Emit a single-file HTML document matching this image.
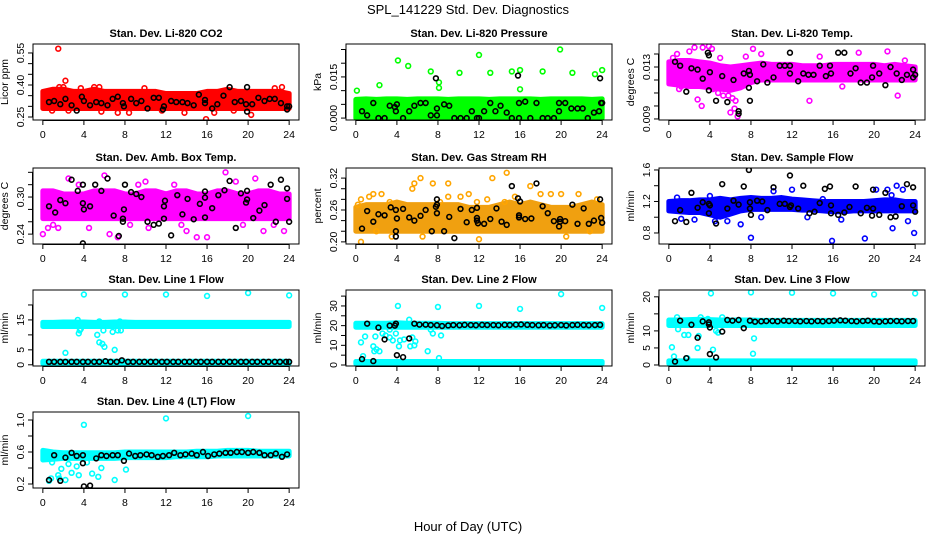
<!DOCTYPE html>
<html><head><meta charset="utf-8"><style>
html,body{margin:0;padding:0;background:#fff;}
svg{display:block;font-family:"Liberation Sans",Arial,sans-serif;}
</style></head><body>
<svg id="chart" width="936" height="540" viewBox="0 0 936 540" xmlns="http://www.w3.org/2000/svg">
<rect x="0" y="0" width="936" height="540" fill="#fff"/>
<text x="468" y="14" font-size="13" text-anchor="middle">SPL_141229  Std. Dev. Diagnostics</text>
<text x="468" y="531" font-size="13" text-anchor="middle">Hour of Day (UTC)</text>
</svg>
<script>
const hours=[0,1,2,3,4,5,6,7,8,9,10,11,12,13,14,15,16,17,18,19,20,21,22,23,24];
const xTicks=[0,4,8,12,16,20,24];
const tailX=[6.2,6.8,7.3,7.9,8.4,9.0,9.5,10.1,10.6,11.2,11.7,12.3,12.8,13.4,13.9,14.5,15.0,15.6,16.1,16.7,17.2,17.8,18.3,18.9,19.4,20.0,20.5,21.1,21.6,22.2,22.7,23.3,23.8];
const l1BlackX=[0.6,1.1,1.7,2.2,2.8,3.3,3.9,4.4,5.0,5.5,6.1,6.6,7.2,7.7,8.3,8.8,9.4,9.9,10.5,11.0,11.6,12.1,12.7,13.2,13.8,14.3,14.9,15.4,16.0,16.5,17.1,17.6,18.2,18.7,19.3,19.8,20.4,20.9,21.5,22.0,22.6,23.1,23.7,24.0];
const l1BlackY=[1,1,1,1,1,1,1,1,1,1,1.2,1,1,1.5,1,1,1,1,1,1,1,1,1,1,1,1,1,1,1,1,1,1,1,1,1,1,1,1,1,1,1,1,1,1];

/* Panel 1: CO2 */
const co2BandLo=[0.29,0.29,0.29,0.29,0.29,0.29,0.29,0.29,0.29,0.29,0.29,0.29,0.29,0.29,0.29,0.29,0.29,0.29,0.29,0.29,0.29,0.29,0.29,0.29,0.29];
const co2BandHi=[0.37,0.38,0.38,0.37,0.37,0.38,0.37,0.37,0.37,0.37,0.37,0.37,0.36,0.36,0.36,0.36,0.37,0.37,0.38,0.37,0.37,0.37,0.37,0.37,0.36];
const co2PtsX=[1.5,2.2,1.6,2.0,3.7,5.0,5.5,9.9,7.3,15.9,13.8,16.7,20.3,0.9,2.5,22.6,11.6,23.3,5.7,18.6,8.4];
const co2PtsY=[0.57,0.42,0.39,0.39,0.385,0.39,0.39,0.385,0.27,0.24,0.27,0.27,0.26,0.28,0.28,0.385,0.28,0.39,0.275,0.28,0.27];
const co2BlkX=[0.6,1.1,1.7,2.2,2.8,3.3,3.8,4.0,4.6,5.2,5.7,6.3,6.8,7.3,7.8,7.9,8.6,9.1,9.6,10.2,10.8,11.3,11.8,11.7,12.5,13.0,13.6,14.1,14.7,15.2,15.8,15.8,16.5,17.0,17.6,18.2,18.7,19.3,19.8,19.9,19.9,20.4,21.0,21.6,22.1,22.6,23.2,23.8,23.8,24.0];
const co2BlkY=[0.32,0.325,0.31,0.335,0.305,0.28,0.345,0.325,0.305,0.32,0.315,0.305,0.335,0.345,0.315,0.3,0.335,0.315,0.325,0.29,0.34,0.34,0.3,0.285,0.325,0.32,0.32,0.315,0.305,0.355,0.33,0.315,0.29,0.31,0.35,0.39,0.32,0.325,0.31,0.39,0.275,0.31,0.34,0.325,0.335,0.335,0.315,0.3,0.285,0.3];

/* Panel 2: Pressure */
const prBandLo=[0,0,0,0,0,0,0,0,0,0,0,0,0,0,0,0,0,0,0,0,0,0,0,0,0];
const prBandHi=[0.0068,0.007,0.0068,0.007,0.007,0.0068,0.007,0.007,0.007,0.0068,0.007,0.007,0.007,0.0068,0.007,0.007,0.007,0.007,0.0068,0.007,0.007,0.007,0.007,0.0068,0.007];
const prPtsX=[0.1,2.3,4.1,5.1,7.3,8.1,8.1,10.1,12.0,13.1,15.2,16.0,16.0,18.2,19.9,21.1,23.3,24.0];
const prPtsY=[0.010,0.012,0.021,0.019,0.017,0.013,0.011,0.0165,0.023,0.0165,0.017,0.0175,0.0105,0.017,0.025,0.0165,0.016,0.0175];
const prBlkX=[0.6,1.1,1.7,2.2,2.8,3.3,3.8,3.9,4.0,4.6,5.2,5.7,6.3,6.8,7.3,7.8,7.9,7.9,8.6,9.1,9.6,10.2,10.8,11.3,11.8,12.0,12.5,13.1,13.6,14.1,14.7,15.2,15.8,15.9,15.9,16.5,17.0,17.6,18.2,18.7,19.3,19.8,19.8,20.4,21.0,21.6,22.1,22.6,23.2,23.7,23.8,23.9,24.0];
const prBlkY=[0.0025,0.001,0.0055,0,0,0.0045,0.004,0.0025,0.005,0,0.0025,0.0045,0.0055,0.0055,0.001,0.0145,0.0035,0.001,0.005,0.0045,0,0,0,0.0025,0,0,0.0025,0.0055,0.0025,0.0045,0.002,0,0.0155,0.0055,0,0.006,0,0.0055,0,0,0,0.0055,0.0025,0.0055,0.0035,0.0035,0.0035,0,0.002,0.0025,0.0145,0.0055,0.0055];

/* Panel 3: Li-820 Temp */
const tBandLo=[0.0117,0.0116,0.0115,0.0115,0.0114,0.0113,0.0112,0.0114,0.0118,0.012,0.012,0.012,0.012,0.012,0.012,0.012,0.012,0.012,0.012,0.012,0.012,0.012,0.012,0.012,0.012];
const tBandHi=[0.0134,0.0135,0.0135,0.0134,0.0133,0.0131,0.013,0.0131,0.0132,0.0133,0.0132,0.0132,0.0132,0.0131,0.0131,0.0131,0.0132,0.0132,0.0132,0.0132,0.0132,0.0131,0.0132,0.0131,0.013];
const tPtsX=[0.4,0.8,1.2,2.0,2.5,3.3,3.9,4.2,2.8,3.2,4.3,5.0,5.6,6.0,6.4,6.7,7.5,8.2,9.0,13.7,14.7,18.5,21.3,22.3,23.0,1.0,5.3,16.9,5.8,6.2,6.5,4.8];
const tPtsY=[0.0137,0.014,0.0115,0.0142,0.0145,0.0145,0.0146,0.0144,0.0105,0.010,0.0113,0.0137,0.0114,0.0095,0.0098,0.0092,0.0138,0.0144,0.014,0.0104,0.0138,0.0141,0.0142,0.0108,0.0135,0.0113,0.0108,0.0115,0.0108,0.0106,0.0104,0.011];
const tBlkX=[0.6,1.1,1.7,2.2,2.8,3.3,3.8,3.9,4.0,3.9,4.6,5.2,5.7,6.3,6.8,6.8,7.3,7.8,7.9,7.8,7.9,8.6,9.2,9.6,10.2,10.8,11.3,11.8,11.8,11.8,12.6,13.1,13.6,14.1,14.7,15.3,15.7,15.8,16.5,17.1,17.7,18.2,18.7,19.3,19.8,19.9,20.5,21.1,21.6,22.2,22.7,23.2,23.8,23.8,24.0];
const tBlkY=[0.0134,0.0131,0.0111,0.0129,0.0128,0.0121,0.0141,0.0139,0.0126,0.0112,0.0104,0.0123,0.0103,0.012,0.0094,0.0096,0.0125,0.0127,0.0124,0.0114,0.0104,0.0119,0.0132,0.0118,0.0122,0.0131,0.0131,0.0141,0.0125,0.0131,0.0119,0.0125,0.0124,0.0124,0.0131,0.0123,0.0131,0.0125,0.0141,0.0141,0.0125,0.0129,0.0118,0.0118,0.0122,0.0131,0.0125,0.0116,0.013,0.0125,0.012,0.0124,0.0128,0.0122,0.0124];

/* Panel 4: Amb Box Temp */
const abBandLo=[0.265,0.265,0.265,0.265,0.265,0.265,0.265,0.265,0.265,0.265,0.265,0.265,0.265,0.265,0.265,0.265,0.265,0.265,0.265,0.265,0.265,0.265,0.265,0.265,0.265];
const abBandHi=[0.31,0.31,0.305,0.305,0.305,0.31,0.31,0.31,0.305,0.305,0.31,0.31,0.305,0.31,0.31,0.305,0.305,0.31,0.31,0.305,0.305,0.31,0.31,0.305,0.305];
const abPtsX=[0,0.5,1.5,2.5,6.0,6.5,7.3,10.0,10.3,14.0,15.0,16.0,17.8,18.8,20.7,21.5,23.5,12.8,4.5,9.3,3.5,1.0,8.5,13.5,22.5,19.5];
const abPtsY=[0.24,0.25,0.25,0.33,0.335,0.24,0.235,0.325,0.25,0.245,0.235,0.235,0.34,0.325,0.33,0.245,0.245,0.32,0.25,0.32,0.32,0.255,0.255,0.255,0.255,0.255];
const abBlkX=[0.6,1.2,1.7,2.2,2.8,3.4,3.9,3.9,4.0,3.9,4.6,5.1,5.7,6.3,6.9,7.4,7.8,7.8,7.9,8.0,8.6,9.1,9.6,10.2,10.8,11.3,11.8,11.8,11.9,12.5,13.1,13.6,14.1,14.7,15.3,15.8,15.8,15.8,16.5,17.1,17.7,18.2,18.8,19.3,19.8,19.9,19.9,20.5,21.1,21.6,22.2,22.7,23.2,23.8,23.8,24.0];
const abBlkY=[0.285,0.275,0.295,0.29,0.328,0.31,0.32,0.29,0.28,0.225,0.285,0.32,0.31,0.33,0.27,0.237,0.26,0.265,0.28,0.32,0.308,0.305,0.3,0.26,0.255,0.257,0.265,0.285,0.294,0.238,0.303,0.272,0.297,0.264,0.289,0.267,0.299,0.309,0.282,0.303,0.311,0.326,0.25,0.306,0.291,0.296,0.31,0.266,0.278,0.287,0.32,0.26,0.328,0.314,0.297,0.26];

/* Panel 5: Gas Stream RH */
const rhBandLo=[0.22,0.22,0.22,0.22,0.22,0.22,0.22,0.22,0.22,0.22,0.22,0.22,0.22,0.22,0.22,0.22,0.22,0.22,0.22,0.22,0.22,0.22,0.22,0.22,0.22];
const rhBandHi=[0.265,0.27,0.27,0.27,0.275,0.27,0.27,0.27,0.27,0.27,0.27,0.265,0.265,0.265,0.27,0.275,0.27,0.275,0.27,0.265,0.265,0.265,0.27,0.275,0.27];
const rhPtsX=[0.2,0.5,0.5,1.3,1.7,2.5,3.3,5.5,5.7,6.3,7.5,9.0,9.0,10.2,11.0,11.8,12.0,12.8,13.3,14.5,14.7,15.5,17.0,18.0,19.0,20.0,20.5,21.7,22.8,23.5,3.5,6.5,8.2,2.0];
const rhPtsY=[0.27,0.28,0.20,0.285,0.29,0.29,0.275,0.30,0.31,0.32,0.31,0.31,0.285,0.285,0.29,0.275,0.205,0.28,0.32,0.275,0.33,0.285,0.305,0.29,0.29,0.29,0.21,0.29,0.22,0.28,0.21,0.21,0.275,0.22];
const rhBlkX=[0.6,1.1,1.7,2.2,2.8,3.4,3.9,3.9,3.9,4.0,4.6,5.2,5.7,6.3,6.8,7.4,7.8,7.9,7.9,7.9,8.6,9.1,9.6,10.2,10.8,11.3,11.8,11.8,11.8,11.9,12.5,13.1,13.7,14.2,14.7,15.2,15.8,15.9,15.9,16.0,16.5,17.1,17.6,18.2,18.7,19.3,19.8,19.9,19.9,20.4,21.1,21.6,22.2,22.7,23.2,23.8,23.9,24.0];
const rhBlkY=[0.225,0.258,0.238,0.252,0.25,0.265,0.26,0.22,0.21,0.244,0.262,0.246,0.24,0.249,0.26,0.22,0.266,0.28,0.27,0.254,0.22,0.247,0.207,0.262,0.237,0.26,0.264,0.245,0.24,0.235,0.234,0.243,0.263,0.238,0.232,0.305,0.282,0.25,0.246,0.276,0.243,0.244,0.31,0.267,0.254,0.239,0.229,0.243,0.238,0.239,0.27,0.234,0.263,0.234,0.24,0.28,0.245,0.236];

/* Panel 6: Sample Flow */
const sfBandLo=[1.08,1.07,1.06,1.06,1.03,1.0,1.04,1.08,1.1,1.1,1.1,1.1,1.1,1.09,1.09,1.08,1.07,1.07,1.08,1.08,1.08,1.08,1.08,1.08,1.08];
const sfBandHi=[1.2,1.21,1.21,1.22,1.22,1.24,1.22,1.24,1.25,1.24,1.24,1.25,1.23,1.22,1.21,1.2,1.2,1.2,1.2,1.2,1.21,1.22,1.22,1.2,1.2];
const sfPtsX=[0.8,1.2,4.0,4.5,5.7,7.0,8.0,12.0,13.5,15.0,15.9,16.8,19.1,20.2,21.3,21.8,22.2,23.3,23.9,22.8,21.7,10.2,2.5,9.0];
const sfPtsY=[1.25,0.98,1.27,0.95,0.95,0.91,0.74,1.35,1.0,1.23,0.70,0.97,0.73,1.35,1.35,0.86,1.4,0.95,0.8,1.35,1.28,1.33,0.97,1.0];
const sfBlkX=[0.6,1.1,1.7,2.2,2.8,3.3,3.9,3.9,4.0,4.6,5.2,5.7,6.3,6.8,7.3,7.8,7.9,7.9,8.0,8.6,9.1,9.6,10.2,10.8,11.3,11.8,11.8,11.9,12.6,13.1,13.7,14.2,14.7,15.2,15.7,15.8,15.8,16.5,17.1,17.6,18.2,18.7,19.3,19.8,19.9,19.9,20.5,21.1,21.6,22.1,22.7,23.2,23.8,23.8,24.0];
const sfBlkY=[0.95,1.09,0.94,1.31,1.12,1.19,1.17,1.05,1.15,0.92,1.42,1.11,1.21,1.16,1.39,1.6,1.19,1.11,1.03,1.21,1.2,1.09,1.38,1.17,1.17,1.53,1.13,1.15,1.11,1.4,1.05,1.07,1.18,1.36,1.39,1.15,1.05,1.03,1.06,1.13,1.39,1.05,1.12,1.02,1.11,1.35,1.03,1.31,1.0,1.01,1.14,1.42,1.38,1.15,1.07];

/* Panel 7: Line 1 Flow */
const l1BandLo=[12.8,12.8,12.8,12.8,12.8,12.8,12.8,12.8,12.8,12.8,12.8,12.8,12.8,12.8,12.8,12.8,12.8,12.8,12.8,12.8,12.8,12.8,12.8,12.8,12.8];
const l1BandHi=[14.2,14.2,14.3,14.3,14.3,14.2,14.2,14.3,14.3,14.2,14.2,14.2,14.2,14.2,14.2,14.2,14.2,14.2,14.2,14.2,14.2,14.2,14.2,14.2,14.2];
const l1Band2Lo=[0.4,0.4,0.4,0.4,0.4,0.4,0.4,0.4,0.4,0.4,0.4,0.4,0.4,0.4,0.4,0.4,0.4,0.4,0.4,0.4,0.4,0.4,0.4,0.4,0.4];
const l1Band2Hi=[1.2,1.2,1.2,1.2,1.2,1.2,1.2,1.2,1.2,1.2,1.2,1.2,1.2,1.2,1.2,1.2,1.2,1.2,1.2,1.2,1.2,1.2,1.2,1.2,1.2];
const l1PtsX=[2.2,3.4,3.5,3.6,3.7,5.3,5.5,5.8,6.0,5.9,6.8,7.0,7.3,7.5,7.6,4.0,8.0,12.0,16.0,20.0,24.0,5.5];
const l1PtsY=[4,15,10.5,11.5,12,10,7.5,7,6,11.5,11,5,11.5,14.5,11.5,23.5,23.5,23.5,23,24,23.2,14.5];

/* Panel 8: Line 2 Flow */
const l2BandLo=[19.2,19.2,19.2,19.2,19.2,19.2,19.2,19.2,19.2,19.2,19.2,19.2,19.2,19.2,19.2,19.2,19.2,19.2,19.2,19.2,19.2,19.2,19.2,19.2,19.2];
const l2BandHi=[21.2,21.2,21.2,21.2,21.5,21.2,21.2,21.2,21.2,21,21,21,21,21,21,21,21,21,21,21,21,21,21,21,21];
const l2Band2Lo=[0.6,0.6,0.6,0.6,0.6,0.6,0.6,0.6,0.6,0.6,0.6,0.6,0.6,0.6,0.6,0.6,0.6,0.6,0.6,0.6,0.6,0.6,0.6,0.6,0.6];
const l2Band2Hi=[1.8,1.8,1.8,1.8,1.8,1.8,1.8,1.8,1.8,1.8,1.8,1.8,1.8,1.8,1.8,1.8,1.8,1.8,1.8,1.8,1.8,1.8,1.8,1.8,1.8];
const l2PtsX=[0.5,0.7,0.9,1.7,1.8,2.0,2.3,2.6,2.9,3.3,3.3,3.6,3.9,4.1,4.2,4.3,4.7,5.2,5.3,5.5,5.7,5.8,7.0,7.3,7.5,8.0,8.1,8.3,12.0,16.0,20.0,24.0,1.9];
const l2PtsY=[11.5,4.5,14.5,9.5,7,8,7,16,15,18,14,12.5,16,30,9.5,12.5,13,23,9.5,14,10,12,7,18,16,29.5,3.5,15,30,28.5,36,29,14.5];
const l2BlkX=[0.6,1.1,1.7,2.2,2.8,3.3,3.8,3.9,4.0,4.6,5.2,5.7];
const l2BlkY=[3,21,2,19,13,20,20,21,5,4,13.5,21];
const l2TailY=[20.5,20.5,20.3,20.2,19.8,20.1,20.3,20.2,20.4,20.3,20.2,20.4,20.3,20.3,20.2,20.4,20.3,20.5,20.6,20.4,20.3,20.2,20.3,20.1,20.2,20.3,20.1,20.3,20.4,20.3,20.2,20.3,20.4];

/* Panel 9: Line 3 Flow */
const l3BandLo=[11.6,11.6,11.6,11.6,11.6,11.6,11.6,11.6,11.6,11.6,11.6,11.6,11.6,11.6,11.6,11.6,11.6,11.6,11.6,11.6,11.6,11.6,11.6,11.6,11.6];
const l3BandHi=[13.2,13.2,13.3,13.4,13.3,13.2,13.2,13.2,13.2,13.1,13.1,13.1,13.1,13.1,13.1,13.1,13.1,13.1,13.1,13.1,13.1,13.1,13.1,13.1,13.1];
const l3Band2Lo=[0.4,0.4,0.4,0.4,0.4,0.4,0.4,0.4,0.4,0.4,0.4,0.4,0.4,0.4,0.4,0.4,0.4,0.4,0.4,0.4,0.4,0.4,0.4,0.4,0.4];
const l3Band2Hi=[1.2,1.2,1.2,1.2,1.2,1.2,1.2,1.2,1.2,1.2,1.2,1.2,1.2,1.2,1.2,1.2,1.2,1.2,1.2,1.2,1.2,1.2,1.2,1.2,1.2];
const l3PtsX=[0.3,0.5,0.8,0.9,1.5,1.9,1.8,2.8,2.9,3.1,3.8,4.1,4.3,4.6,4.8,5.2,8.0,8.2,8.3,12.0,16.0,20.0,24.0,3.5];
const l3PtsY=[5.2,2.5,14,10.5,8.8,8.8,2,5,8.5,14,13.5,21,4.5,10,9.5,14,21.3,3.3,7.8,21.2,21,20.7,21,12];
const l3BlkX=[0.6,1.1,1.7,2.2,2.8,3.3,3.9,3.9,4.0,4.0,4.6,5.2,5.7];
const l3BlkY=[1,13,2,11.8,8,12.8,12.5,11.9,11,3.2,2.2,9.8,13.2];
const l3TailY=[13,13.2,10.8,13,12.7,12.8,12.9,12.9,12.8,13,12.9,12.9,12.8,12.9,12.8,12.9,12.8,12.9,13,13.1,13,12.9,12.8,12.9,13,12.8,12.7,12.8,12.9,12.9,12.8,12.9,12.9];

/* Panel 10: Line 4 (LT) Flow */
const l4BandLo=[0.5,0.51,0.52,0.52,0.52,0.52,0.52,0.52,0.53,0.53,0.53,0.53,0.53,0.54,0.54,0.54,0.54,0.55,0.55,0.55,0.55,0.55,0.55,0.55,0.55];
const l4BandHi=[0.62,0.6,0.59,0.59,0.59,0.59,0.59,0.59,0.6,0.6,0.6,0.6,0.6,0.6,0.6,0.61,0.61,0.61,0.62,0.62,0.62,0.61,0.61,0.61,0.61];
const l4PtsX=[0.6,0.8,0.9,1.5,1.6,1.8,2.5,2.8,3.3,3.5,4.0,4.3,4.8,5.4,5.7,7.0,8.1,12.0,20.0,2.2];
const l4PtsY=[0.24,0.27,0.47,0.31,0.27,0.39,0.45,0.34,0.42,0.31,0.94,0.47,0.33,0.29,0.4,0.25,0.38,1.02,1.05,0.25];
const l4BlkX=[0.6,1.1,1.7,2.2,2.8,3.3,3.9,3.9,4.0,4.6,5.2,5.7];
const l4BlkY=[0.25,0.56,0.24,0.53,0.59,0.55,0.56,0.46,0.17,0.18,0.52,0.56];
const l4TailY=[0.55,0.56,0.56,0.49,0.58,0.55,0.56,0.57,0.56,0.54,0.55,0.56,0.59,0.56,0.57,0.58,0.56,0.6,0.55,0.57,0.58,0.59,0.59,0.6,0.6,0.59,0.6,0.59,0.56,0.56,0.58,0.54,0.57];

const svg=document.getElementById('chart');
const NS='http://www.w3.org/2000/svg';
function mk(tag,attrs,parent){const e=document.createElementNS(NS,tag);for(const k in attrs)e.setAttribute(k,attrs[k]);(parent||svg).appendChild(e);return e;}

const colX=[33,346,659], W=266;
const rowY=[44,168,290,412], H=76;

function panel(o){
  const x0=colX[o.col], y0=rowY[o.row];
  const g=mk('g',{});
  
  
  const sx=v=>x0+(v+0.96)/25.92*W;
  const sy=v=>y0+H-(v-o.ymin)/(o.ymax-o.ymin)*H;
  const clipId='clip-'+o.name;
  const cp=mk('clipPath',{id:clipId},g);
  mk('rect',{x:x0,y:y0,width:W,height:H},cp);
  const plot=mk('g',{'clip-path':'url(#'+clipId+')'},g);
  
  
  (o.bands||[]).forEach(b=>{
    let pts=[];
    for(let i=0;i<hours.length;i++)pts.push(sx(hours[i])+','+sy(b.hi[i]));
    for(let i=hours.length-1;i>=0;i--)pts.push(sx(hours[i])+','+sy(b.lo[i]));
    const p=mk('polygon',{points:pts.join(' '),fill:b.fill||o.color,stroke:b.fill||o.color,'stroke-width':5,'stroke-linejoin':'round'},plot);
    
    
  });
  (o.pts||[]).forEach(s=>{
    for(let i=0;i<s.x.length;i++){
      const c=mk('circle',{cx:sx(s.x[i]),cy:sy(s.y[i]),r:2.4,fill:'none',stroke:s.color,'stroke-width':1.6},plot);
      
      
    }
  });
  const box=mk('rect',{x:x0,y:y0,width:W,height:H,fill:'none',stroke:'#000','stroke-width':1},g);
  
  
  const t=mk('text',{x:x0+W/2,y:y0-7,'font-size':11,'font-weight':'bold','text-anchor':'middle'},g);
  t.textContent=o.title;
  
  
  mk('line',{x1:sx(0),x2:sx(24),y1:y0+H+0.5,y2:y0+H+0.5,stroke:'#000'},g);
  xTicks.forEach(v=>{
    mk('line',{x1:sx(v),x2:sx(v),y1:y0+H,y2:y0+H+5,stroke:'#000'},g);
    const l=mk('text',{x:sx(v),y:y0+H+18,'font-size':10.5,'text-anchor':'middle'},g);
    l.textContent=v;
    
    
  });
  const yt=o.yticks;
  mk('line',{x1:x0-0.5,x2:x0-0.5,y1:sy(yt[0]),y2:sy(yt[yt.length-1]),stroke:'#000'},g);
  yt.forEach(v=>mk('line',{x1:x0-5,x2:x0,y1:sy(v),y2:sy(v),stroke:'#000'},g));
  o.ylabels.forEach(v=>{
    const yy=sy(v), xx=x0-9;
    const l=mk('text',{x:xx,y:yy,'font-size':10.5,'text-anchor':'middle',transform:'rotate(-90 '+xx+' '+yy+')'},g);
    l.textContent=o.fmt(v);
    
    
  });
  const yl=x0-25, ym=y0+H/2;
  const yt2=mk('text',{x:yl,y:ym,'font-size':10.5,'text-anchor':'middle',transform:'rotate(-90 '+yl+' '+ym+')'},g);
  yt2.textContent=o.ytitle;
  
  
}
const f2=v=>v.toFixed(2), f3=v=>v.toFixed(3), f1=v=>v.toFixed(1), f0=v=>String(v);
const K='#000', RED='#ff0000', GRN='#00ff00', MAG='#ff00ff', ORG='#ffa500', BLU='#0000ff', CY='#00ffff';

panel({name:'panel-co2',col:0,row:0,title:'Stan. Dev. Li-820 CO2',ytitle:'Licor ppm',ymin:0.236,ymax:0.592,
  yticks:[0.25,0.30,0.35,0.40,0.45,0.50,0.55],ylabels:[0.25,0.40,0.55],fmt:f2,color:RED,
  bands:[{lo:co2BandLo,hi:co2BandHi}],pts:[{x:co2PtsX,y:co2PtsY,color:RED},{x:co2BlkX,y:co2BlkY,color:K}]});
panel({name:'panel-pressure',col:1,row:0,title:'Stan. Dev. Li-820 Pressure',ytitle:'kPa',ymin:-0.0007,ymax:0.027,
  yticks:[0,0.005,0.010,0.015,0.020,0.025],ylabels:[0,0.015],fmt:f3,color:GRN,
  bands:[{lo:prBandLo,hi:prBandHi}],pts:[{x:prPtsX,y:prPtsY,color:GRN},{x:prBlkX,y:prBlkY,color:K}]});
panel({name:'panel-li820-temp',col:2,row:0,title:'Stan. Dev. Li-820 Temp.',ytitle:'degrees C',ymin:0.00892,ymax:0.01477,
  yticks:[0.009,0.010,0.011,0.012,0.013,0.014],ylabels:[0.009,0.013],fmt:f3,color:MAG,
  bands:[{lo:tBandLo,hi:tBandHi}],pts:[{x:tPtsX,y:tPtsY,color:MAG},{x:tBlkX,y:tBlkY,color:K}]});
panel({name:'panel-amb-box-temp',col:0,row:1,title:'Stan. Dev. Amb. Box Temp.',ytitle:'degrees C',ymin:0.224,ymax:0.347,
  yticks:[0.24,0.26,0.28,0.30,0.32,0.34],ylabels:[0.24,0.30],fmt:f2,color:MAG,
  bands:[{lo:abBandLo,hi:abBandHi}],pts:[{x:abPtsX,y:abPtsY,color:MAG},{x:abBlkX,y:abBlkY,color:K}]});
panel({name:'panel-gas-stream-rh',col:1,row:1,title:'Stan. Dev. Gas Stream RH',ytitle:'percent',ymin:0.196,ymax:0.339,
  yticks:[0.20,0.22,0.24,0.26,0.28,0.30,0.32],ylabels:[0.20,0.26,0.32],fmt:f2,color:ORG,
  bands:[{lo:rhBandLo,hi:rhBandHi,fill:'#f0a010'}],pts:[{x:rhPtsX,y:rhPtsY,color:ORG},{x:rhBlkX,y:rhBlkY,color:K}]});
panel({name:'panel-sample-flow',col:2,row:1,title:'Stan. Dev. Sample Flow',ytitle:'ml/min',ymin:0.66,ymax:1.625,
  yticks:[0.8,1.0,1.2,1.4,1.6],ylabels:[0.8,1.2,1.6],fmt:f1,color:BLU,
  bands:[{lo:sfBandLo,hi:sfBandHi}],pts:[{x:sfPtsX,y:sfPtsY,color:BLU},{x:sfBlkX,y:sfBlkY,color:K}]});
panel({name:'panel-line1-flow',col:0,row:2,title:'Stan. Dev. Line 1 Flow',ytitle:'ml/min',ymin:-0.4,ymax:25,
  yticks:[0,5,10,15,20],ylabels:[0,5,15],fmt:f0,color:CY,
  bands:[{lo:l1BandLo,hi:l1BandHi},{lo:l1Band2Lo,hi:l1Band2Hi}],pts:[{x:l1PtsX,y:l1PtsY,color:CY},{x:l1BlackX,y:l1BlackY,color:K}]});
panel({name:'panel-line2-flow',col:1,row:2,title:'Stan. Dev. Line 2 Flow',ytitle:'ml/min',ymin:-0.5,ymax:38.1,
  yticks:[0,5,10,15,20,25,30,35],ylabels:[0,10,20,30],fmt:f0,color:CY,
  bands:[{lo:l2BandLo,hi:l2BandHi},{lo:l2Band2Lo,hi:l2Band2Hi}],pts:[{x:l2PtsX,y:l2PtsY,color:CY},{x:l2BlkX,y:l2BlkY,color:K},{x:tailX,y:l2TailY,color:K}]});
panel({name:'panel-line3-flow',col:2,row:2,title:'Stan. Dev. Line 3 Flow',ytitle:'ml/min',ymin:-0.3,ymax:22,
  yticks:[0,5,10,15,20],ylabels:[0,5,10,20],fmt:f0,color:CY,
  bands:[{lo:l3BandLo,hi:l3BandHi},{lo:l3Band2Lo,hi:l3Band2Hi}],pts:[{x:l3PtsX,y:l3PtsY,color:CY},{x:l3BlkX,y:l3BlkY,color:K},{x:tailX,y:l3TailY,color:K}]});
panel({name:'panel-line4-flow',col:0,row:3,title:'Stan. Dev. Line 4 (LT) Flow',ytitle:'ml/min',ymin:0.15,ymax:1.1,
  yticks:[0.2,0.4,0.6,0.8,1.0],ylabels:[0.2,0.6,1.0],fmt:f1,color:CY,
  bands:[{lo:l4BandLo,hi:l4BandHi}],pts:[{x:l4PtsX,y:l4PtsY,color:CY},{x:l4BlkX,y:l4BlkY,color:K},{x:tailX,y:l4TailY,color:K}]});
</script>
</body></html>
